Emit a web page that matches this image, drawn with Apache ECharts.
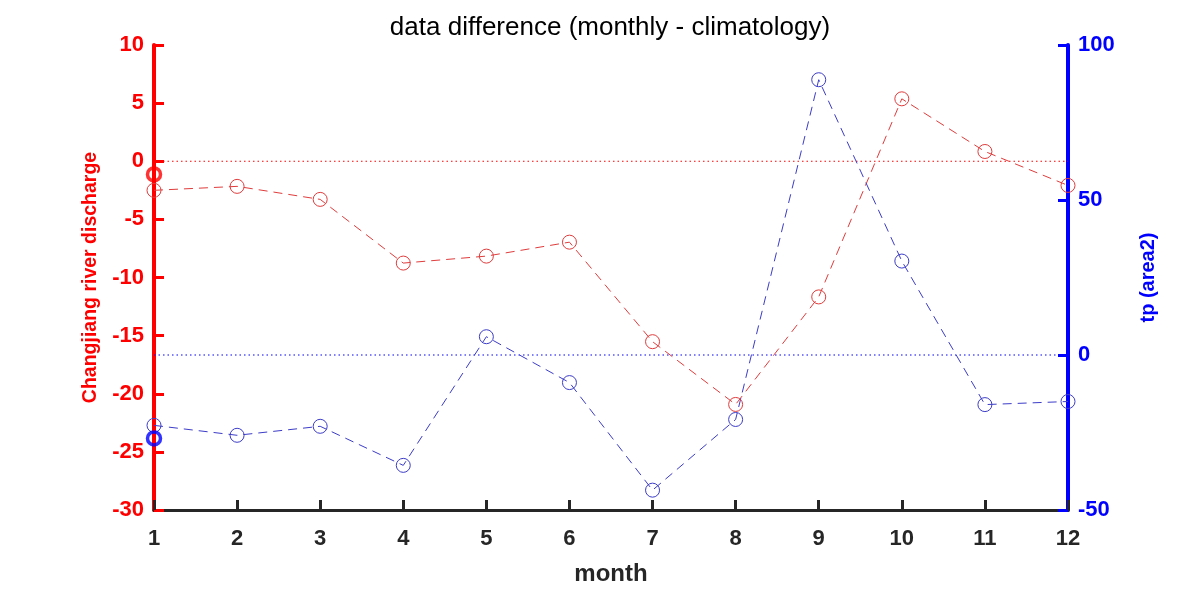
<!DOCTYPE html>
<html>
<head>
<meta charset="utf-8">
<script src="https://cdn.jsdelivr.net/npm/echarts@6/dist/echarts.min.js"></script>
<style>html,body{margin:0;padding:0;background:#fff}#c{width:1181px;height:591px}</style>
</head>
<body>
<div id="c"></div>
<script>
const months = [1,2,3,4,5,6,7,8,9,10,11,12];
const discharge = [-2.5,-2.16,-3.28,-8.76,-8.16,-6.96,-15.52,-20.92,-11.67,5.37,0.84,-2.08];
const tp = [-22.7,-25.9,-23.0,-35.6,5.9,-8.9,-43.6,-20.8,88.8,30.3,-16.0,-15.0];
const dischargeMark = [[1,-1.13]];
const tpMark = [[1,-26.9]];
const zeroRef = [[1,0],[12,0]];

const FONT = 'Liberation Sans, Arial, Helvetica, sans-serif';
const chart = echarts.init(document.getElementById('c'));
chart.setOption({
  animation: false,
  backgroundColor: '#fff',
  title: {
    text: 'data difference (monthly - climatology)',
    left: 605, top: 10, textAlign: 'center',
    textStyle: {fontFamily: FONT, fontSize: 26, fontWeight: 'normal', color: '#000'}
  },
  grid: {left: 154, width: 914, top: 45, height: 467, containLabel: false},
  xAxis: {
    type: 'value', min: 1, max: 12, interval: 1,
    name: 'month', nameLocation: 'middle', nameGap: 52,
    nameTextStyle: {fontFamily: FONT, fontSize: 24, fontWeight: 'bold', color: '#262626'},
    axisLine: {onZero: false, lineStyle: {color: '#262626', width: 3}},
    axisTick: {inside: true, length: 10, lineStyle: {color: '#262626', width: 3}},
    axisLabel: {fontFamily: FONT, fontSize: 22, fontWeight: 'bold', color: '#262626', margin: 18},
    splitLine: {show: false}
  },
  yAxis: [{
    type: 'value', min: -30, max: 10, interval: 5, position: 'left',
    name: 'Changjiang river discharge', nameLocation: 'middle', nameGap: 53,
    nameTextStyle: {fontFamily: FONT, fontSize: 19.5, fontWeight: 'bold', color: '#ff0000'},
    axisLine: {show: true, onZero: false, lineStyle: {color: '#ff0000', width: 4}},
    axisTick: {show: true, inside: true, length: 10, lineStyle: {color: '#ff0000', width: 3}},
    axisLabel: {fontFamily: FONT, fontSize: 22, fontWeight: 'bold', color: '#ff0000', margin: 10},
    splitLine: {show: false}
  }, {
    type: 'value', min: -50, max: 100, interval: 50, position: 'right',
    name: 'tp (area2)', nameLocation: 'middle', nameGap: 70,
    nameTextStyle: {fontFamily: FONT, fontSize: 20, fontWeight: 'bold', color: '#0000ff'},
    axisLine: {show: true, onZero: false, lineStyle: {color: '#0000ff', width: 4}},
    axisTick: {show: true, inside: true, length: 10, lineStyle: {color: '#0000ff', width: 3}},
    axisLabel: {fontFamily: FONT, fontSize: 22, fontWeight: 'bold', color: '#0000ff', margin: 10},
    splitLine: {show: false}
  }],
  series: [{
    type: 'line', yAxisIndex: 0, data: zeroRef, symbol: 'none', silent: true,
    lineStyle: {color: '#ff0000', type: [1.5,3], width: 1.2}, z: 2
  }, {
    type: 'line', yAxisIndex: 1, data: zeroRef, symbol: 'none', silent: true,
    lineStyle: {color: '#0000ff', type: [1.5,3], width: 1.2}, z: 2
  }, {
    type: 'line', yAxisIndex: 0,
    data: months.map((m,i)=>[m, discharge[i]]),
    symbol: 'circle', symbolSize: 14,
    lineStyle: {color: '#e03c3c', width: 1, type: [9,6]},
    itemStyle: {color: 'rgba(0,0,0,0)', borderColor: '#e03c3c', borderWidth: 1},
    z: 3
  }, {
    type: 'line', yAxisIndex: 1,
    data: months.map((m,i)=>[m, tp[i]]),
    symbol: 'circle', symbolSize: 14,
    lineStyle: {color: '#3c3cc8', width: 1, type: [9,6]},
    itemStyle: {color: 'rgba(0,0,0,0)', borderColor: '#3c3cc8', borderWidth: 1},
    z: 3
  }, {
    type: 'scatter', yAxisIndex: 0, data: dischargeMark, clip: false,
    symbol: 'circle', symbolSize: 13,
    itemStyle: {color: 'rgba(0,0,0,0)', borderColor: '#ff0000', borderWidth: 3.5}, z: 10
  }, {
    type: 'scatter', yAxisIndex: 1, data: tpMark, clip: false,
    symbol: 'circle', symbolSize: 13,
    itemStyle: {color: 'rgba(0,0,0,0)', borderColor: '#0000ff', borderWidth: 3.5}, z: 10
  }]
});
</script>
</body>
</html>
